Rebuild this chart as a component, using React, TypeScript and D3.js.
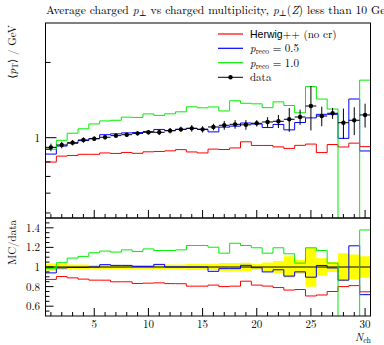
import React from 'react';
import * as d3 from 'd3';

const nch = [1,2,3,4,5,6,7,8,9,10,11,12,13,14,15,16,17,18,19,20,21,22,23,24,25,26,27,28,29,30];
const dataVals = [0.915,0.935,0.955,0.979,0.991,1.004,1.019,1.028,1.041,1.051,1.051,1.067,1.080,1.090,1.080,1.104,1.121,1.131,1.126,1.142,1.156,1.163,1.185,1.210,1.339,1.221,1.252,1.148,1.174,1.233];
const dataErr = [0.032,0.028,0.024,0.024,0.02,0.02,0.02,0.021,0.021,0.021,0.026,0.027,0.027,0.033,0.032,0.033,0.045,0.045,0.05,0.034,0.052,0.07,0.13,0.085,0.27,0.11,0.063,0.16,0.15,0.135];
const herwigNoCr = [0.799,0.844,0.849,0.858,0.858,0.869,0.865,0.873,0.866,0.878,0.881,0.886,0.896,0.877,0.869,0.900,0.897,0.910,0.963,0.931,0.931,0.919,0.906,0.932,0.943,0.872,0.939,0.918,0.951,0.921];
const preco05 = [0.860,0.926,0.950,0.974,0.991,1.028,1.036,1.045,1.048,1.058,1.079,1.067,1.080,1.090,1.080,1.055,1.102,1.112,1.145,1.134,1.098,1.130,1.075,1.150,1.200,1.240,1.240,0.994,1.428,0.885];
const preco10 = [0.899,0.976,1.042,1.085,1.135,1.167,1.174,1.208,1.205,1.245,1.228,1.246,1.269,1.329,1.317,1.327,1.279,1.405,1.373,1.366,1.319,1.391,1.345,1.258,1.601,1.427,1.302,0,0,1.699];
const xTicks = [5,10,15,20,25,30];
const ratioTicks = [0.6,0.8,1,1.2,1.4];

const W = 384, H = 345;
const left = 45.5, right = 370.5, mainTop = 23, mainBot = 218, ratTop = 218, ratBot = 316;

export default function App() {
  const x = d3.scaleLinear().domain([0.5, 30.5]).range([left, right]);
  const y = d3.scaleLog().domain([0.4773, 2.876]).range([mainBot, mainTop]);
  const yr = d3.scaleLinear().domain([0.5, 1.5]).range([ratBot, ratTop]);

  const step = (vals: number[], sy: (v: number) => number, below: number) => {
    const pts: [number, number][] = [];
    vals.forEach((v, i) => {
      const yy = v > 0 ? sy(v) : below;
      pts.push([x(nch[i] - 0.5), yy], [x(nch[i] + 0.5), yy]);
    });
    return d3.line()(pts) || '';
  };
  const ratio = (vals: number[]) => vals.map((v, i) => v / dataVals[i]);

  const bandPts = nch.flatMap((n, i) => {
    const r = dataErr[i] / dataVals[i];
    return [
      { x: x(n - 0.5), y0: yr(1 - r), y1: yr(1 + r) },
      { x: x(n + 0.5), y0: yr(1 - r), y1: yr(1 + r) },
    ];
  });
  const band = d3.area<any>().x(d => d.x).y0(d => d.y0).y1(d => d.y1)(bandPts) || '';

  const series = [
    { vals: herwigNoCr, color: '#ff0000' },
    { vals: preco05, color: '#0000ff' },
    { vals: preco10, color: '#00ee00' },
  ];

  const mainMinor = [0.5, 0.6, 0.7, 0.8, 0.9, 2];
  const ratioMinor = d3.range(0.55, 1.5, 0.05).filter(v => Math.abs(v * 5 - Math.round(v * 5)) > 0.01);
  const xMinor = nch.filter(n => n % 5 !== 0);

  const serif = "'Latin Modern Roman','Liberation Serif','DejaVu Serif',serif";

  return (
    <svg width={W} height={H} style={{ display: 'block', position: 'absolute', left: 0, top: 0 }} fontFamily={serif}>
      <defs>
        <clipPath id="cm"><rect x={left} y={mainTop} width={right - left} height={mainBot - mainTop} /></clipPath>
        <clipPath id="cr"><rect x={left} y={ratTop} width={right - left} height={ratBot - ratTop} /></clipPath>
      </defs>
      <rect width={W} height={H} fill="white" />
      <text x={46} y={14} fontSize={11.65}>
        Average charged <tspan fontStyle="italic">p</tspan><tspan fontSize={8.5} dy={2}>⊥</tspan><tspan dy={-2}> vs charged multiplicity, </tspan><tspan fontStyle="italic">p</tspan><tspan fontSize={8.5} dy={2}>⊥</tspan><tspan dy={-2}>(</tspan><tspan fontStyle="italic">Z</tspan>) less than 10 GeV
      </text>

      {/* main panel */}
      <g clipPath="url(#cm)">
        {series.map((s, k) => (
          <path key={k} d={step(s.vals, y, mainBot + 20)} fill="none" stroke={s.color} strokeWidth={1} />
        ))}
        {nch.map((n, i) => (
          <g key={n} stroke="black" strokeWidth={1}>
            <line x1={x(n)} x2={x(n)} y1={y(dataVals[i] - dataErr[i])} y2={y(dataVals[i] + dataErr[i])} />
            <line x1={x(n - 0.5)} x2={x(n + 0.5)} y1={y(dataVals[i])} y2={y(dataVals[i])} />
            <circle cx={x(n)} cy={y(dataVals[i])} r={2.2} fill="black" stroke="none" />
          </g>
        ))}
      </g>
      {/* main axes ticks */}
      <g stroke="black" strokeWidth={1}>
        <line x1={left} x2={left + 11} y1={y(1)} y2={y(1)} />
        {mainMinor.map(v => <line key={v} x1={left} x2={left + 5} y1={y(v)} y2={y(v)} />)}
        {xTicks.map(t => <line key={t} x1={x(t)} x2={x(t)} y1={mainBot} y2={mainBot - 8} />)}
        {xMinor.map(t => <line key={t} x1={x(t)} x2={x(t)} y1={mainBot} y2={mainBot - 4} />)}
      </g>
      <rect x={left} y={mainTop} width={right - left} height={mainBot - mainTop} fill="none" stroke="black" strokeWidth={1} />
      <text x={40} y={y(1) + 4} fontSize={11} textAnchor="end">1</text>
      <text transform={`translate(16,${mainTop + 2}) rotate(-90)`} fontSize={11} textAnchor="end">
        ⟨<tspan fontStyle="italic">p</tspan><tspan fontSize={8} dy={2}>T</tspan><tspan dy={-2}>⟩ / GeV</tspan>
      </text>

      {/* legend */}
      {[
        { c: '#ff0000', yy: 34 },
        { c: '#0000ff', yy: 48.3 },
        { c: '#00ee00', yy: 62.7 },
      ].map((l, i) => (
        <line key={i} x1={218} x2={243} y1={l.yy} y2={l.yy} stroke={l.c} strokeWidth={1.2} />
      ))}
      <line x1={218} x2={243} y1={77.3} y2={77.3} stroke="black" strokeWidth={1} />
      <circle cx={230.5} cy={77.3} r={2.2} fill="black" />
      <text x={250} y={38} fontSize={11}>
        <tspan fontFamily="'Liberation Sans','DejaVu Sans',sans-serif" fontSize={10.5}>Herwig</tspan>++ (no cr)
      </text>
      <text x={250} y={52.3} fontSize={11}>
        <tspan fontStyle="italic">p</tspan><tspan fontSize={7.5} dy={2}>reco</tspan><tspan dy={-2}> = 0.5</tspan>
      </text>
      <text x={250} y={66.7} fontSize={11}>
        <tspan fontStyle="italic">p</tspan><tspan fontSize={7.5} dy={2}>reco</tspan><tspan dy={-2}> = 1.0</tspan>
      </text>
      <text x={250} y={81.3} fontSize={11}>data</text>

      {/* ratio panel */}
      <g clipPath="url(#cr)">
        <path d={band} fill="#ffff00" stroke="none" />
        <line x1={left} x2={right} y1={yr(1)} y2={yr(1)} stroke="black" strokeWidth={1} />
        {series.map((s, k) => (
          <path key={k} d={step(ratio(s.vals), yr, ratBot + 20)} fill="none" stroke={s.color} strokeWidth={1} />
        ))}
      </g>
      <g stroke="black" strokeWidth={1}>
        {ratioTicks.map(t => <line key={t} x1={left} x2={left + 8} y1={yr(t)} y2={yr(t)} />)}
        {ratioMinor.map(t => <line key={t} x1={left} x2={left + 4} y1={yr(t)} y2={yr(t)} />)}
        {xTicks.map(t => <line key={t} x1={x(t)} x2={x(t)} y1={ratBot} y2={ratBot - 8} />)}
        {xMinor.map(t => <line key={t} x1={x(t)} x2={x(t)} y1={ratBot} y2={ratBot - 4} />)}
      </g>
      <rect x={left} y={ratTop} width={right - left} height={ratBot - ratTop} fill="none" stroke="black" strokeWidth={1} />
      {ratioTicks.map(t => (
        <text key={t} x={40} y={yr(t) + 4} fontSize={11} textAnchor="end">{t === 1 ? '1' : t.toFixed(1)}</text>
      ))}
      {xTicks.map(t => (
        <text key={t} x={x(t)} y={328} fontSize={11} textAnchor="middle">{t}</text>
      ))}
      <text transform={`translate(16,${ratTop + 2}) rotate(-90)`} fontSize={11} textAnchor="end">MC/data</text>
      <text x={371} y={341} fontSize={11} textAnchor="end">
        <tspan fontStyle="italic">N</tspan><tspan fontSize={8} dy={2}>ch</tspan>
      </text>
    </svg>
  );
}
